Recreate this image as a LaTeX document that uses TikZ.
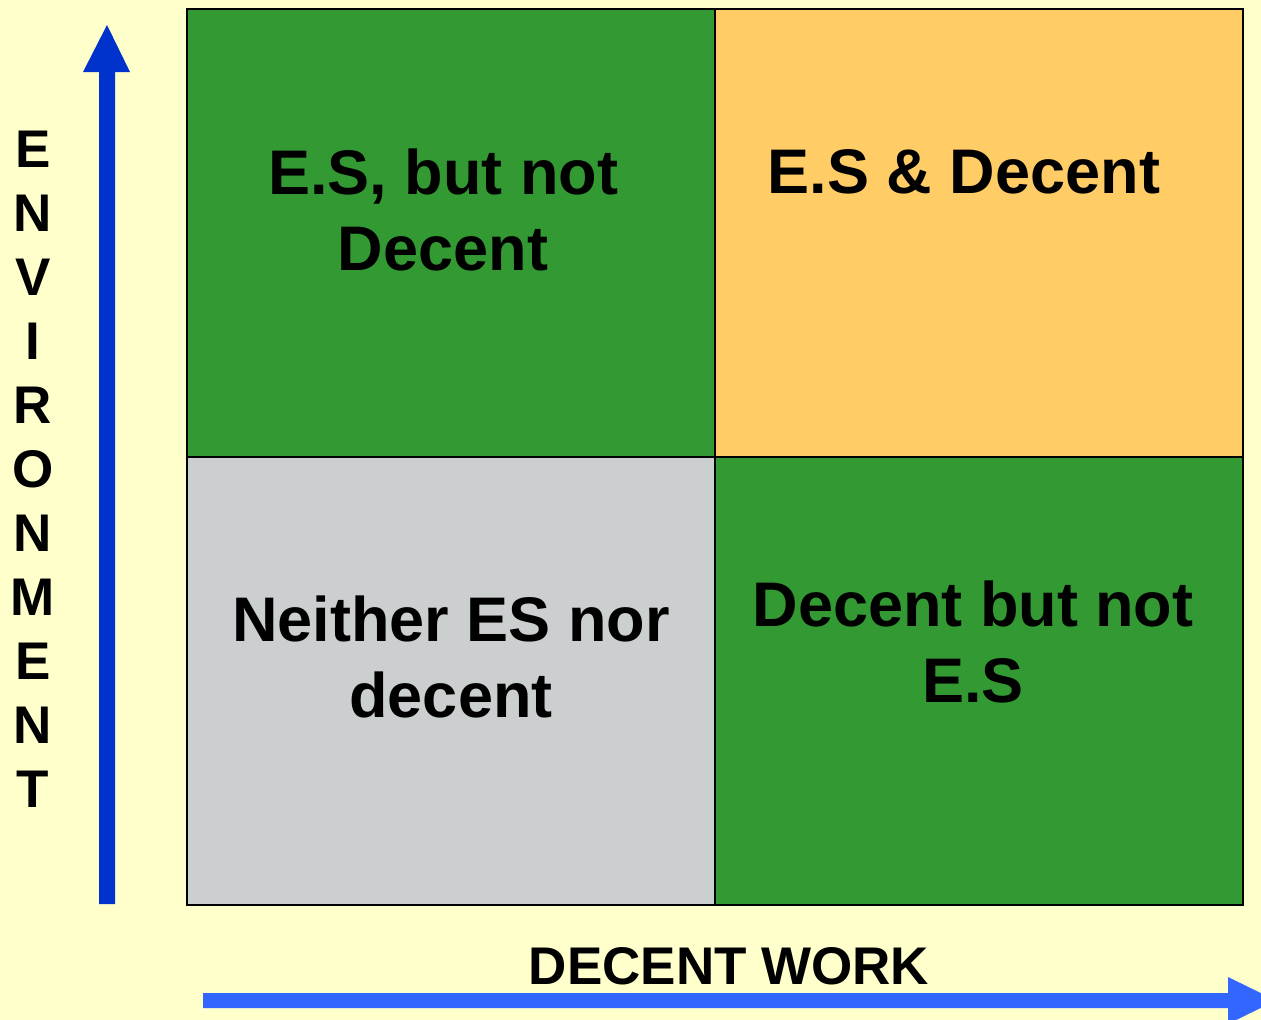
\documentclass[tikz,border=0pt]{standalone}
\usepackage{fontspec}
\setmainfont{Liberation Sans}
\definecolor{bgc}{HTML}{FFFFCC}
\definecolor{grn}{HTML}{339933}
\definecolor{org}{HTML}{FFCC66}
\definecolor{gry}{RGB}{204,207,207}
\definecolor{darkblue}{HTML}{0033CC}
\definecolor{lightblue}{HTML}{3366FF}
\begin{document}
\begin{tikzpicture}[x=1pt,y=-1pt,
  cell/.style={draw=black,line width=2pt},
  celltext/.style={font=\bfseries\fontsize{63}{76}\selectfont,align=center,anchor=base,inner sep=0pt},
  axistext/.style={font=\bfseries\fontsize{53}{64}\selectfont,inner sep=0pt,anchor=base}]
\fill[bgc] (0,0) rectangle (1261,1020);
\useasboundingbox (0,0) rectangle (1261,1020);
% cells
\path[cell,fill=grn] (187,9) rectangle (715,457);
\path[cell,fill=org] (715,9) rectangle (1243,457);
\path[cell,fill=gry] (187,457) rectangle (715,905);
\path[cell,fill=grn] (715,457) rectangle (1243,905);
% cell texts (base anchor = baseline of last line)
\node[celltext] (tl) at (443,270) {E.S, but not\\Decent};
\node[celltext] (tr) at (964,193) {E.S \& Decent};
\node[celltext] (bl) at (451,717) {Neither ES nor\\decent};
\node[celltext] (br) at (973,702) {Decent but not\\E.S};
% vertical arrow
\coordinate (vtip) at (107,25);
\fill[darkblue] (99,904) -- (99,72) -- (83,72) -- (vtip) -- (130,72) -- (115,72) -- (115,904) -- cycle;
% horizontal arrow
\coordinate (htip) at (1276,1000.5);
\fill[lightblue] (203,993) -- (1228,993) -- (1228,977) -- (htip) -- (1228,1024) -- (1228,1008) -- (203,1008) -- cycle;
% axis labels
\node[axistext] (xl) at (729,984) {DECENT WORK};
\foreach \l [count=\i from 0] in {E,N,V,I,R,O,N,M,E,N,T}
  \node[axistext] (v\i) at (33,167+64*\i) {\l};
\end{tikzpicture}
\end{document}
